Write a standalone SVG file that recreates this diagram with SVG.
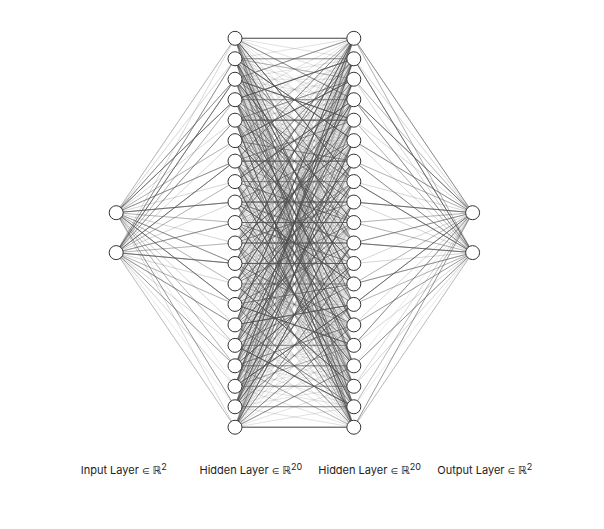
<svg xmlns="http://www.w3.org/2000/svg" width="604" height="529" viewBox="0 0 604 529">
<style>
.e{fill:none;stroke:#505050;stroke-width:1;stroke-linejoin:round;stroke-linecap:round}
.base{stroke-opacity:0.17}
.mid{stroke-opacity:0.33}
.dark{stroke-opacity:0.65}
.o1{stroke-opacity:0.58}
.o2{stroke-opacity:0.4}
.o3{stroke-opacity:0.24}
.o4{stroke-opacity:0.12}
.n{fill:#fff;stroke:#333;stroke-width:1}
.t{font-family:Inter,"Liberation Sans","DejaVu Sans",sans-serif;font-size:11px;fill:#222}
.el{font-size:8.5px}
.s{font-size:9px}
</style>
<rect width="604" height="529" fill="#fff"/>
<g id="connectors" transform="translate(235 38.3) scale(118.8 20.47)">
<path class="e base" vector-effect="non-scaling-stroke" d="M0 0 1 0 0 1 1 1 0 2 1 2 0 3 1 3 0 4 1 4 0 5 1 5 0 6 1 6 0 7 1 7 0 8 1 8 0 9 1 9 0 10 1 10 0 11 1 11 0 12 1 12 0 13 1 13 0 14 1 14 0 15 1 15 0 16 1 16 0 17 1 17 0 18 1 18 0 19 1 19 0 0 1 2 0 1 1 3 0 2 1 4 0 3 1 5 0 4 1 6 0 5 1 7 0 6 1 8 0 7 1 9 0 8 1 10 0 9 1 11 0 10 1 12 0 11 1 13 0 12 1 14 0 13 1 15 0 14 1 16 0 15 1 17 0 16 1 18 0 17 1 19 0 18 1 0 0 19 1 1 0 0 1 4 0 1 1 5 0 2 1 6 0 3 1 7 0 4 1 8 0 5 1 9 0 6 1 10 0 7 1 11 0 8 1 12 0 9 1 13 0 10 1 14 0 11 1 15 0 12 1 16 0 13 1 17 0 14 1 18 0 15 1 19 0 16 1 0 0 17 1 1 0 18 1 2 0 19 1 3 0 0 1 6 0 1 1 7 0 2 1 8 0 3 1 9 0 4 1 10 0 5 1 11 0 6 1 12 0 7 1 13 0 8 1 14 0 9 1 15 0 10 1 16 0 11 1 17 0 12 1 18 0 13 1 19 0 14 1 0 0 15 1 1 0 16 1 2 0 17 1 3 0 18 1 4 0 19 1 5 0 0 1 8 0 1 1 9 0 2 1 10 0 3 1 11 0 4 1 12 0 5 1 13 0 6 1 14 0 7 1 15 0 8 1 16 0 9 1 17 0 10 1 18 0 11 1 19 0 12 1 0 0 13 1 1 0 14 1 2 0 15 1 3 0 16 1 4 0 17 1 5 0 18 1 6 0 19 1 7 0 0 1 10 0 1 1 11 0 2 1 12 0 3 1 13 0 4 1 14 0 5 1 15 0 6 1 16 0 7 1 17 0 8 1 18 0 9 1 19 0 10 1 0 0 11 1 1 0 12 1 2 0 13 1 3 0 14 1 4 0 15 1 5 0 16 1 6 0 17 1 7 0 18 1 8 0 19 1 9 0 0 1 12 0 1 1 13 0 2 1 14 0 3 1 15 0 4 1 16 0 5 1 17 0 6 1 18 0 7 1 19 0 8 1 0 0 9 1 1 0 10 1 2 0 11 1 3 0 12 1 4 0 13 1 5 0 14 1 6 0 15 1 7 0 16 1 8 0 17 1 9 0 18 1 10 0 19 1 11 0 0 1 14 0 1 1 15 0 2 1 16 0 3 1 17 0 4 1 18 0 5 1 19 0 6 1 0 0 7 1 1 0 8 1 2 0 9 1 3 0 10 1 4 0 11 1 5 0 12 1 6 0 13 1 7 0 14 1 8 0 15 1 9 0 16 1 10 0 17 1 11 0 18 1 12 0 19 1 13 0 0 1 16 0 1 1 17 0 2 1 18 0 3 1 19 0 4 1 0 0 5 1 1 0 6 1 2 0 7 1 3 0 8 1 4 0 9 1 5 0 10 1 6 0 11 1 7 0 12 1 8 0 13 1 9 0 14 1 10 0 15 1 11 0 16 1 12 0 17 1 13 0 18 1 14 0 19 1 15 0 0 1 18 0 1 1 19 0 2 1 0 0 3 1 1 0 4 1 2 0 5 1 3 0 6 1 4 0 7 1 5 0 8 1 6 0 9 1 7 0 10 1 8 0 11 1 9 0 12 1 10 0 13 1 11 0 14 1 12 0 15 1 13 0 16 1 14 0 17 1 15 0 18 1 16 0 19 1 17 0 0"/>
<path class="e mid" vector-effect="non-scaling-stroke" d="M0 0 1 3 0 0 1 10 0 0 1 16 0 0 1 19M0 1 1 1 0 1 1 8 0 1 1 14 0 1 1 2M0 2 1 0 0 2 1 11 0 2 1 6 0 2 1 19M0 3 1 7 0 3 1 17 0 3 1 3 0 3 1 12M0 4 1 13 0 4 1 2 0 4 1 15 0 4 1 10M0 5 1 6 0 5 1 9 0 5 1 18 0 5 1 0M0 6 1 12 0 6 1 4 0 6 1 19 0 6 1 9M0 7 1 1 0 7 1 14 0 7 1 7 0 7 1 16M0 8 1 17 0 8 1 5 0 8 1 10 0 8 1 19M0 9 1 0 0 9 1 11 0 9 1 13 0 9 1 6M0 10 1 15 0 10 1 3 0 10 1 8 0 10 1 17M0 11 1 4 0 11 1 18 0 11 1 7 0 11 1 16M0 12 1 12 0 12 1 9 0 12 1 1 0 12 1 14M0 13 1 2 0 13 1 19 0 13 1 10 0 13 1 5M0 14 1 18 0 14 1 6 0 14 1 4 0 14 1 11M0 15 1 15 0 15 1 1 0 15 1 12 0 15 1 9M0 16 1 5 0 16 1 14 0 16 1 8 0 16 1 19M0 17 1 17 0 17 1 10 0 17 1 3 0 17 1 15M0 18 1 0 0 18 1 7 0 18 1 13 0 18 1 2M0 19 1 4 0 19 1 16 0 19 1 11 0 19 1 6"/>
<path class="e dark" vector-effect="non-scaling-stroke" d="M0 0 1 0 0 0 1 7 0 0 1 13M0 1 1 5 0 1 1 12 0 1 1 18M0 2 1 9 0 2 1 4 0 2 1 16M0 3 1 14 0 3 1 1 0 3 1 10M0 4 1 4 0 4 1 19 0 4 1 8M0 5 1 11 0 5 1 2 0 5 1 17M0 6 1 6 0 6 1 15 0 6 1 0M0 7 1 18 0 7 1 3 0 7 1 9M0 8 1 8 0 8 1 12 0 8 1 1M0 9 1 9 0 9 1 16 0 9 1 2M0 10 1 10 0 10 1 5 0 10 1 19M0 11 1 11 0 11 1 0 0 11 1 14M0 12 1 3 0 12 1 17 0 12 1 7M0 13 1 15 0 13 1 6 0 13 1 12M0 14 1 0 0 14 1 13 0 14 1 9M0 15 1 7 0 15 1 18 0 15 1 4M0 16 1 2 0 16 1 11 0 16 1 16M0 17 1 13 0 17 1 1 0 17 1 6M0 18 1 5 0 18 1 10 0 18 1 18M0 19 1 19 0 19 1 8 0 19 1 14"/>
<path class="e o4" vector-effect="non-scaling-stroke" d="M-1 8.52 0 1-1 8.52 0 4-1 8.52 0 7-1 8.52 0 10-1 8.52 0 14-1 8.52 0 17M-1 10.47 0 0-1 10.47 0 5-1 10.47 0 8-1 10.47 0 12-1 10.47 0 15-1 10.47 0 18M2 8.52 1 1 2 8.52 1 4 2 8.52 1 7 2 8.52 1 11 2 8.52 1 14 2 8.52 1 16M2 10.47 1 2 2 10.47 1 5 2 10.47 1 8 2 10.47 1 11 2 10.47 1 15 2 10.47 1 18"/>
<path class="e o3" vector-effect="non-scaling-stroke" d="M-1 8.52 0 0-1 8.52 0 5-1 8.52 0 9-1 8.52 0 12-1 8.52 0 16-1 8.52 0 19M-1 10.47 0 3-1 10.47 0 7-1 10.47 0 10-1 10.47 0 13-1 10.47 0 17M2 8.52 1 2 2 8.52 1 6 2 8.52 1 9 2 8.52 1 12 2 8.52 1 17M2 10.47 1 0 2 10.47 1 4 2 10.47 1 9 2 10.47 1 13 2 10.47 1 17"/>
<path class="e o2" vector-effect="non-scaling-stroke" d="M-1 8.52 0 2-1 8.52 0 6-1 8.52 0 11-1 8.52 0 15M-1 10.47 0 1-1 10.47 0 4-1 10.47 0 9-1 10.47 0 14-1 10.47 0 19M2 8.52 1 0 2 8.52 1 5 2 8.52 1 10 2 8.52 1 15 2 8.52 1 18M2 10.47 1 3 2 10.47 1 6 2 10.47 1 12 2 10.47 1 16 2 10.47 1 19"/>
<path class="e o1" vector-effect="non-scaling-stroke" d="M-1 8.52 0 3-1 8.52 0 8-1 8.52 0 13-1 8.52 0 18M-1 10.47 0 2-1 10.47 0 6-1 10.47 0 11-1 10.47 0 16M2 8.52 1 3 2 8.52 1 8 2 8.52 1 13 2 8.52 1 19M2 10.47 1 1 2 10.47 1 7 2 10.47 1 10 2 10.47 1 14"/>
</g>
<g id="input-layer">
<g id="in-0"><circle class="n" cx="116.2" cy="212.7" r="7"/></g>
<g id="in-1"><circle class="n" cx="116.2" cy="252.62" r="7"/></g>
</g>
<g id="hidden-layer-1">
<g id="h1-0"><circle class="n" cx="235" cy="38.3" r="7"/></g>
<g id="h1-1"><circle class="n" cx="235" cy="58.77" r="7"/></g>
<g id="h1-2"><circle class="n" cx="235" cy="79.24" r="7"/></g>
<g id="h1-3"><circle class="n" cx="235" cy="99.71" r="7"/></g>
<g id="h1-4"><circle class="n" cx="235" cy="120.18" r="7"/></g>
<g id="h1-5"><circle class="n" cx="235" cy="140.65" r="7"/></g>
<g id="h1-6"><circle class="n" cx="235" cy="161.12" r="7"/></g>
<g id="h1-7"><circle class="n" cx="235" cy="181.59" r="7"/></g>
<g id="h1-8"><circle class="n" cx="235" cy="202.06" r="7"/></g>
<g id="h1-9"><circle class="n" cx="235" cy="222.53" r="7"/></g>
<g id="h1-10"><circle class="n" cx="235" cy="243" r="7"/></g>
<g id="h1-11"><circle class="n" cx="235" cy="263.47" r="7"/></g>
<g id="h1-12"><circle class="n" cx="235" cy="283.94" r="7"/></g>
<g id="h1-13"><circle class="n" cx="235" cy="304.41" r="7"/></g>
<g id="h1-14"><circle class="n" cx="235" cy="324.88" r="7"/></g>
<g id="h1-15"><circle class="n" cx="235" cy="345.35" r="7"/></g>
<g id="h1-16"><circle class="n" cx="235" cy="365.82" r="7"/></g>
<g id="h1-17"><circle class="n" cx="235" cy="386.29" r="7"/></g>
<g id="h1-18"><circle class="n" cx="235" cy="406.76" r="7"/></g>
<g id="h1-19"><circle class="n" cx="235" cy="427.23" r="7"/></g>
</g>
<g id="hidden-layer-2">
<g id="h2-0"><circle class="n" cx="353.8" cy="38.3" r="7"/></g>
<g id="h2-1"><circle class="n" cx="353.8" cy="58.77" r="7"/></g>
<g id="h2-2"><circle class="n" cx="353.8" cy="79.24" r="7"/></g>
<g id="h2-3"><circle class="n" cx="353.8" cy="99.71" r="7"/></g>
<g id="h2-4"><circle class="n" cx="353.8" cy="120.18" r="7"/></g>
<g id="h2-5"><circle class="n" cx="353.8" cy="140.65" r="7"/></g>
<g id="h2-6"><circle class="n" cx="353.8" cy="161.12" r="7"/></g>
<g id="h2-7"><circle class="n" cx="353.8" cy="181.59" r="7"/></g>
<g id="h2-8"><circle class="n" cx="353.8" cy="202.06" r="7"/></g>
<g id="h2-9"><circle class="n" cx="353.8" cy="222.53" r="7"/></g>
<g id="h2-10"><circle class="n" cx="353.8" cy="243" r="7"/></g>
<g id="h2-11"><circle class="n" cx="353.8" cy="263.47" r="7"/></g>
<g id="h2-12"><circle class="n" cx="353.8" cy="283.94" r="7"/></g>
<g id="h2-13"><circle class="n" cx="353.8" cy="304.41" r="7"/></g>
<g id="h2-14"><circle class="n" cx="353.8" cy="324.88" r="7"/></g>
<g id="h2-15"><circle class="n" cx="353.8" cy="345.35" r="7"/></g>
<g id="h2-16"><circle class="n" cx="353.8" cy="365.82" r="7"/></g>
<g id="h2-17"><circle class="n" cx="353.8" cy="386.29" r="7"/></g>
<g id="h2-18"><circle class="n" cx="353.8" cy="406.76" r="7"/></g>
<g id="h2-19"><circle class="n" cx="353.8" cy="427.23" r="7"/></g>
</g>
<g id="output-layer">
<g id="out-0"><circle class="n" cx="472.6" cy="212.7" r="7"/></g>
<g id="out-1"><circle class="n" cx="472.6" cy="252.62" r="7"/></g>
</g>
<g id="labels">
<text class="t" x="80.7" y="474">Input Layer <tspan class="el">∈</tspan> ℝ<tspan class="s" dy="-4">2</tspan></text>
<text class="t" x="199.5" y="474">Hidden Layer <tspan class="el">∈</tspan> ℝ<tspan class="s" dy="-4">20</tspan></text>
<text class="t" x="318.3" y="474">Hidden Layer <tspan class="el">∈</tspan> ℝ<tspan class="s" dy="-4">20</tspan></text>
<text class="t" x="437.3" y="474">Output Layer <tspan class="el">∈</tspan> ℝ<tspan class="s" dy="-4">2</tspan></text>
</g>
</svg>
